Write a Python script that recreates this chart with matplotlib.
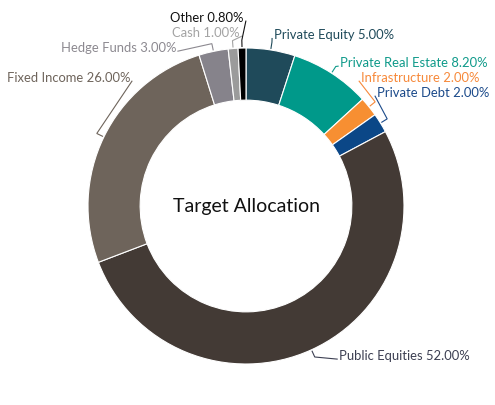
import numpy as np
import matplotlib
matplotlib.use('Agg')
import matplotlib.pyplot as plt

plt.rcParams['font.family'] = ['Lato', 'DejaVu Sans']

# data
labels = ['Private Equity', 'Private Real Estate', 'Infrastructure', 'Private Debt',
          'Public Equities', 'Fixed Income', 'Hedge Funds', 'Cash', 'Other']
values = [5.00, 8.20, 2.00, 2.00, 52.00, 26.00, 3.00, 1.00, 0.80]
colors = ['#1f4a5a', '#00998a', '#f78f32', '#0b4787', '#433a35', '#6e645b',
          '#86838b', '#9b9b9b', '#000000']
text_colors = ['#1f4a5a', '#0f9a8a', '#f7893a', '#1b4a8a', '#3c3f52', '#6e645b',
               '#8c8990', '#a3a3a3', '#111111']

# label text anchor (x, y, ha) in data units, radius 1 = outer ring
label_pos = [(0.177, 1.08, 'left'), (0.595, 0.905, 'left'), (0.728, 0.81, 'left'),
             (0.829, 0.715, 'left'), (0.589, -0.949, 'left'), (-0.734, 0.81, 'right'),
             (-0.443, 1.0, 'right'), (-0.038, 1.095, 'right'), (-0.013, 1.19, 'right')]

fig = plt.figure(figsize=(4.95, 4.05), dpi=100)
ax = fig.add_axes([0, 0, 1, 1])

wedges, _ = ax.pie(values, colors=colors, startangle=90, counterclock=False,
                   radius=1.0, wedgeprops=dict(width=0.33, edgecolor='white', linewidth=0.8))

# labels and leader lines
start = 0.0
total = sum(values)
for lab, v, tc, c, (tx, ty, ha) in zip(labels, values, text_colors, colors, label_pos):
    mid = np.deg2rad((start + v / 2) / total * 360)
    start += v
    ex, ey = np.sin(mid), np.cos(mid)
    ax.text(tx, ty, f'{lab} {v:.2f}%', ha=ha, va='center', fontsize=9.4, color=tc)
    lx = tx - 0.012 if ha == 'left' else tx + 0.012
    ax.plot([lx, ex * 1.05, ex * 1.01], [ty - 0.02, ey * 1.05, ey * 1.01],
            color=tc, linewidth=0.8, solid_joinstyle='miter')

ax.text(0, 0, 'Target Allocation', ha='center', va='center', fontsize=14, color='#111111')

ax.set_xlim(-246 / 158, (495 - 246) / 158)
ax.set_ylim(-(405 - 206) / 158, 206 / 158)
ax.set_aspect('equal')
ax.axis('off')

plt.savefig('out.png', dpi=100)
